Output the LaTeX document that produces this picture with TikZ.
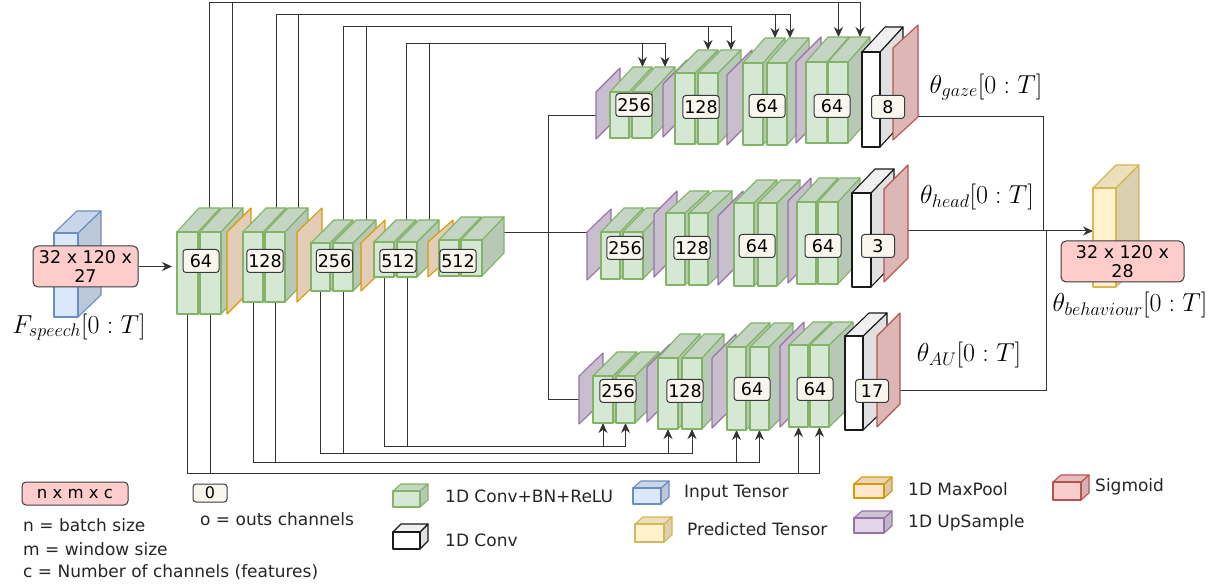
\RequirePackage{fix-cm}
\documentclass[tikz,border=0pt]{standalone}
\usepackage{fontspec}
\setsansfont{DejaVu Sans}
\usetikzlibrary{arrows.meta}
\definecolor{gF}{HTML}{D5E8D4}\definecolor{gD}{HTML}{82B366}
\definecolor{oF}{HTML}{FFE6CC}\definecolor{oD}{HTML}{D79B00}
\definecolor{uF}{HTML}{E1D5E7}\definecolor{uD}{HTML}{9673A6}
\definecolor{rF}{HTML}{F8CECC}\definecolor{rD}{HTML}{B85450}
\definecolor{bF}{HTML}{DAE8FC}\definecolor{bD}{HTML}{6C8EBF}
\definecolor{yF}{HTML}{FFF2CC}\definecolor{yD}{HTML}{D6B656}
\definecolor{wD}{HTML}{1A1A1A}
\definecolor{lblF}{HTML}{F9F7ED}\definecolor{lblD}{HTML}{36393D}
\definecolor{pinkF}{HTML}{FFCCCC}
\tikzset{
  face/.style 2 args={fill=#1,draw=#2,line width=1.1,line join=round},
  g front/.style={face={gF}{gD}}, g top/.style={face={gF!92!black}{gD}}, g side/.style={face={gF!86!black}{gD}},
  o front/.style={face={oF}{oD}}, o top/.style={face={oF!92!black}{oD}}, o side/.style={face={oF!86!black}{oD}},
  u front/.style={face={uF}{uD}}, u top/.style={face={uF!92!black}{uD}}, u side/.style={face={uF!86!black}{uD}},
  r front/.style={face={rF}{rD}}, r top/.style={face={rF!92!black}{rD}}, r side/.style={face={rF!86!black}{rD}},
  b front/.style={face={bF}{bD}}, b top/.style={face={bF!92!black}{bD}}, b side/.style={face={bF!86!black}{bD}},
  y front/.style={face={yF}{yD}}, y top/.style={face={yF!92!black}{yD}}, y side/.style={face={yF!86!black}{yD}},
  w front/.style={face={white}{wD}}, w top/.style={face={white!94!black}{wD}}, w side/.style={face={white!88!black}{wD}},
  o plane/.style={face={oF!89!black}{oD}},
  u plane/.style={face={uF!89!black}{uD}},
  r plane/.style={face={rF!89!black}{rD}},
  lbl/.style={draw=lblD,fill=lblF,rounded corners=3,line width=1,minimum width=36,minimum height=23,inner sep=1.5,font=\sffamily\fontsize{17.5}{19}\selectfont},
  lbls/.style={lbl,minimum width=33},
  pinklbl/.style={draw=lblD,fill=pinkF,rounded corners=5,line width=1,minimum width=105,minimum height=41,align=center,inner sep=1,font=\sffamily\fontsize{17.5}{19}\selectfont},
  mlab/.style={inner sep=0,font=\fontsize{26}{28}\selectfont},
  ltxt/.style={anchor=west,inner sep=0,text=black!85,font=\sffamily\fontsize{17}{19}\selectfont},
  conn/.style={draw=black!80,line width=1},
  arr/.style={conn,-{Stealth[length=10pt,width=9pt]}}
}
\newcommand\cubeit[8]{%
  \path[#2 side] (#3+#5,#4) -- (#3+#5+#7,#4-#8) -- (#3+#5+#7,#4+#6-#8) -- (#3+#5,#4+#6) -- cycle;
  \path[#2 top] (#3,#4) -- (#3+#7,#4-#8) -- (#3+#5+#7,#4-#8) -- (#3+#5,#4) -- cycle;
  \path[#2 front] (#3,#4) rectangle (#3+#5,#4+#6);
  \coordinate (#1b) at (#3+#5/2,#4+#6);
  \coordinate (#1t) at (#3+#5/2+#7,#4-#8);
}
\newcommand\planeit[7]{%
  \path[#2 plane] (#3,#4) -- (#3+#6,#4-#7) -- (#3+#6,#4+#5-#7) -- (#3,#4+#5) -- cycle;
  \coordinate (#1) at (#3,#4+#5/2);
}
\begin{document}
\begin{tikzpicture}[x=1pt,y=-1pt]
\fill[white] (0,0) rectangle (1219,585);
\useasboundingbox (0,0) rectangle (1219,585);

% ---- level coordinates for skip connections
\coordinate (t1) at (0,3);   \coordinate (t2) at (0,15);
\coordinate (t3) at (0,27);  \coordinate (t4) at (0,44);
\coordinate (d1) at (0,473); \coordinate (d2) at (0,462);
\coordinate (d3) at (0,453); \coordinate (d4) at (0,446);

% ---- encoder box anchor coordinates
\coordinate (e1ab) at (187.5,314); \coordinate (e1at) at (209.5,208);
\coordinate (e1bb) at (210.5,314); \coordinate (e1bt) at (232.5,208);
\coordinate (e2ab) at (253,302);   \coordinate (e2at) at (276,208);
\coordinate (e2bb) at (275,302);   \coordinate (e2bt) at (298,208);
\coordinate (e3ab) at (320.5,291); \coordinate (e3at) at (343.5,220);
\coordinate (e3bb) at (343,291);   \coordinate (e3bt) at (366,220);
\coordinate (e4ab) at (384,277);   \coordinate (e4at) at (406,220);
\coordinate (e4bb) at (407,277);   \coordinate (e4bt) at (429,220);
% decoder targets
\coordinate (g1at) at (642.5,67);  \coordinate (g1bt) at (665,67);
\coordinate (g2at) at (708,50);    \coordinate (g2bt) at (731,50);
\coordinate (g3at) at (775,38);    \coordinate (g3bx) at (790,38);
\coordinate (g4at) at (838.5,37);  \coordinate (g4bt) at (860,37);
\coordinate (a1ab) at (603,423);   \coordinate (a1bb) at (625.5,423);
\coordinate (a2ab) at (668,429);   \coordinate (a2bb) at (692,429);
\coordinate (a3ab) at (736.5,430); \coordinate (a3bb) at (759.5,430);
\coordinate (a4ab) at (798.5,427); \coordinate (a4bb) at (819.5,427);

% ---- skip connections (behind the blocks)
\draw[arr] (e1at) -- (e1at |- t1) -| (g4at);
\draw[arr] (e1bt) -- (e1bt |- t1) -| (g4bt);
\draw[arr] (e2at) -- (e2at |- t2) -| (g3at);
\draw[arr] (e2bt) -- (e2bt |- t2) -| (g3bx);
\draw[arr] (e3at) -- (e3at |- t3) -| (g2at);
\draw[arr] (e3bt) -- (e3bt |- t3) -| (g2bt);
\draw[arr] (e4at) -- (e4at |- t4) -| (g1at);
\draw[arr] (e4bt) -- (e4bt |- t4) -| (g1bt);
\draw[arr] (e1ab) -- (e1ab |- d1) -| (a4ab);
\draw[arr] (e1bb) -- (e1bb |- d1) -| (a4bb);
\draw[arr] (e2ab) -- (e2ab |- d2) -| (a3ab);
\draw[arr] (e2bb) -- (e2bb |- d2) -| (a3bb);
\draw[arr] (e3ab) -- (e3ab |- d3) -| (a2ab);
\draw[arr] (e3bb) -- (e3bb |- d3) -| (a2bb);
\draw[arr] (e4ab) -- (e4ab |- d4) -| (a1ab);
\draw[arr] (e4bb) -- (e4bb |- d4) -| (a1bb);

% ---- bottleneck to decoders
\coordinate (e5out) at (504,233);
\coordinate (sp) at (548,233);
\coordinate (gin) at (596,116);
\coordinate (hin) at (587,233);
\coordinate (ain) at (579,400);
\draw[conn] (e5out) -- (hin);
\draw[conn] (sp) |- (gin);
\draw[conn] (sp) |- (ain);

% ---- outputs
\coordinate (gout) at (918,117);
\coordinate (hout) at (908,231);
\coordinate (aout) at (900,391);
\coordinate (jg) at (1043,231);
\coordinate (ja) at (1046,231);
\coordinate (outin) at (1093,231);
\draw[conn] (gout) -| (jg);
\draw[conn] (aout) -| (ja);
\draw[arr] (hout) -- (outin);

% ---- input tensor
\cubeit{in}{b}{54}{233}{24}{84}{23}{22}
\node[pinklbl] (inl) at (85.5,266.5) {32 x 120 x\\27};
\coordinate (inarr) at (172,267);
\draw[arr] (inl.east) -- (inl.east -| inarr);
\node[mlab] (fsp) at (79,327) {$F_{speech}[0:T]$};

% ---- encoder
\cubeit{e1a}{g}{177}{232}{21}{82}{22}{24}
\cubeit{e1b}{g}{200}{232}{21}{82}{22}{24}
\planeit{p1}{o}{227}{232}{82}{24}{24}
\cubeit{e2a}{g}{243}{232}{20}{70}{23}{24}
\cubeit{e2b}{g}{265}{232}{20}{70}{23}{24}
\planeit{p2}{o}{297}{232}{70}{25}{24}
\cubeit{e3a}{g}{311}{243}{19}{48}{23}{23}
\cubeit{e3b}{g}{333}{243}{20}{48}{23}{23}
\planeit{p3}{o}{361}{243}{48}{24}{23}
\cubeit{e4a}{g}{374}{242}{20}{35}{22}{22}
\cubeit{e4b}{g}{397}{242}{20}{35}{22}{22}
\planeit{p4}{o}{428}{242}{35}{25}{22}
\cubeit{e5a}{g}{439}{240}{20}{36}{22}{23}
\cubeit{e5b}{g}{461}{240}{21}{36}{22}{23}
\node[lbl] (l1) at (201,261) {64};
\node[lbl] (l2) at (265,261) {128};
\node[lbl] (l3) at (334.5,261) {256};
\node[lbl] (l4) at (398,261) {512};
\node[lbl] (l5) at (458,261) {512};

% ---- gaze decoder
\planeit{gp1}{u}{596}{92}{47}{24}{24}
\cubeit{g1a}{g}{610}{92}{19}{46}{23}{25}
\cubeit{g1b}{g}{632}{92}{20}{46}{23}{25}
\planeit{gp2}{u}{663}{84}{53}{24}{24}
\cubeit{g2a}{g}{675}{73}{20}{71}{23}{23}
\cubeit{g2b}{g}{698}{73}{20}{71}{23}{23}
\planeit{gp3}{u}{727}{75}{70}{25}{25}
\cubeit{g3a}{g}{743}{63}{20}{82}{22}{25}
\cubeit{g3b}{g}{767}{63}{20}{82}{22}{25}
\planeit{gp4}{u}{796}{62}{81}{25}{25}
\cubeit{g4a}{g}{806}{62}{21}{81}{22}{25}
\cubeit{g4b}{g}{828}{62}{20}{81}{22}{25}
\cubeit{gw}{w}{862}{52}{18}{95}{23}{25}
\planeit{gr}{r}{893}{48}{92}{25}{23}
\node[lbl] (lg1) at (634,105) {256};
\node[lbl] (lg2) at (701,107) {128};
\node[lbl] (lg3) at (767,106) {64};
\node[lbl] (lg4) at (832,106) {64};
\node[lbls] (lg5) at (888,107) {8};
\node[mlab] (thg) at (986,87) {$\theta_{gaze}[0:T]$};

% ---- head decoder
\planeit{hp1}{u}{587}{232}{48}{24}{23}
\cubeit{h1a}{g}{601}{232}{19}{47}{23}{24}
\cubeit{h1b}{g}{623}{232}{20}{47}{23}{24}
\planeit{hp2}{u}{654}{214}{63}{23}{23}
\cubeit{h2a}{g}{666}{213}{19}{72}{24}{22}
\cubeit{h2b}{g}{689}{213}{19}{72}{24}{22}
\planeit{hp3}{u}{718}{216}{69}{25}{25}
\cubeit{h3a}{g}{734}{203}{20}{83}{23}{23}
\cubeit{h3b}{g}{758}{203}{19}{83}{23}{23}
\planeit{hp4}{u}{788}{201}{82}{23}{23}
\cubeit{h4a}{g}{797}{202}{19}{82}{22}{24}
\cubeit{h4b}{g}{818}{202}{20}{82}{22}{24}
\cubeit{hw}{w}{852}{193}{19}{94}{23}{24}
\planeit{hr}{r}{884}{189}{93}{24}{24}
\node[lbl] (lh1) at (625,248) {256};
\node[lbl] (lh2) at (692,248) {128};
\node[lbl] (lh3) at (757,246) {64};
\node[lbl] (lh4) at (823,246) {64};
\node[lbls] (lh5) at (878,246) {3};
\node[mlab] (thh) at (977,197) {$\theta_{head}[0:T]$};

% ---- AU decoder
\planeit{ap1}{u}{579}{376}{48}{24}{23}
\cubeit{a1a}{g}{593}{376}{20}{47}{24}{24}
\cubeit{a1b}{g}{616}{376}{19}{47}{24}{24}
\planeit{ap2}{u}{647}{367}{55}{23}{23}
\cubeit{a2a}{g}{658}{358}{20}{71}{22}{24}
\cubeit{a2b}{g}{682}{358}{20}{71}{22}{24}
\planeit{ap3}{u}{712}{358}{70}{24}{24}
\cubeit{a3a}{g}{727}{347}{19}{83}{24}{24}
\cubeit{a3b}{g}{750}{347}{19}{83}{24}{24}
\planeit{ap4}{u}{780}{346}{81}{24}{24}
\cubeit{a4a}{g}{789}{345}{19}{82}{24}{23}
\cubeit{a4b}{g}{810}{345}{19}{82}{24}{23}
\cubeit{aw}{w}{845}{336}{18}{94}{24}{23}
\planeit{ar}{r}{877}{336}{91}{23}{23}
\node[lbl] (la1) at (618,391) {256};
\node[lbl] (la2) at (685,391) {128};
\node[lbl] (la3) at (752,389) {64};
\node[lbl] (la4) at (815,389) {64};
\node[lbls] (la5) at (872,391) {17};
\node[mlab] (tha) at (969,355) {$\theta_{AU}[0:T]$};

% ---- output tensor
\cubeit{out}{y}{1093}{188}{23}{99}{23}{23}
\node[pinklbl,minimum width=123] (outl) at (1122.5,261.5) {32 x 120 x\\28};
\node[mlab] (thb) at (1130,305) {$\theta_{behaviour}[0:T]$};

% ---- legend
\node[pinklbl,minimum width=106,minimum height=23,rounded corners=4,font=\sffamily\fontsize{16.5}{18}\selectfont] (lgp) at (75,493.5) {n x m x c};
\node[ltxt] (lgn) at (23,525) {n = batch size};
\node[ltxt] (lgm) at (23,549) {m = window size};
\node[ltxt] (lgc) at (23,572) {c = Number of channels (features)};
\node[lbl,minimum width=34,minimum height=18,font=\sffamily\fontsize{16}{18}\selectfont] (lgo) at (210,493) {0};
\node[ltxt] (lgot) at (200,519) {o = outs channels};
\cubeit{lg}{g}{393}{491}{27}{16}{8}{7}
\node[ltxt] (lgt1) at (445,496) {1D Conv+BN+ReLU};
\cubeit{lw}{w}{393}{532}{27}{17}{8}{8}
\node[ltxt] (lgt2) at (445,540) {1D Conv};
\cubeit{lb}{b}{633}{488}{28}{16}{8}{7}
\node[ltxt] (lgt3) at (684,493) {Input Tensor};
\cubeit{ly}{y}{635}{524}{29}{18}{8}{7}
\node[ltxt] (lgt4) at (687,529) {Predicted Tensor};
\cubeit{lo}{o}{854}{484}{30}{14}{8}{7}
\node[ltxt] (lgt5) at (908,489) {1D MaxPool};
\cubeit{lu}{u}{854}{518}{30}{15}{8}{7}
\node[ltxt] (lgt6) at (908,523) {1D UpSample};
\cubeit{lr}{r}{1053}{482}{28}{18}{8}{7}
\node[ltxt] (lgt7) at (1095,487) {Sigmoid};
\end{tikzpicture}
\end{document}
